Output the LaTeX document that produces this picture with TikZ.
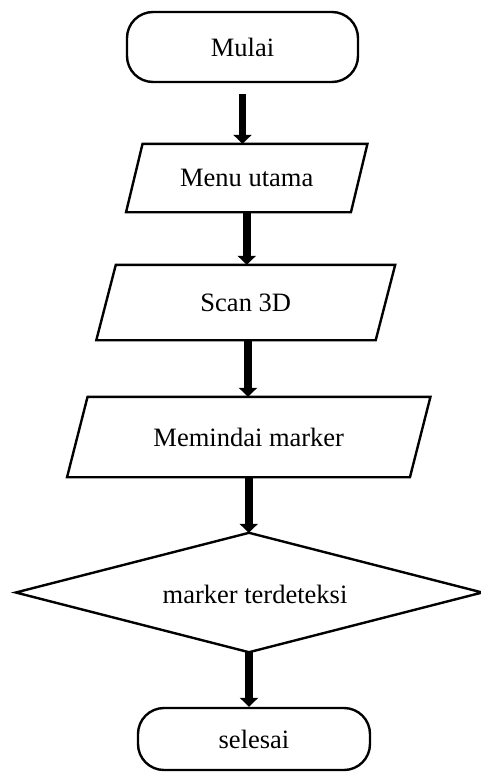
\documentclass[tikz,border=0pt]{standalone}
\usepackage{fontspec}
\setmainfont{Liberation Serif}
\usetikzlibrary{arrows.meta,calc}
\begin{document}
\begin{tikzpicture}[x=1pt,y=-1pt,
  outline/.style={draw=black, line width=2.4pt},
  txt/.style={font=\fontsize{26.5}{30}\selectfont, inner sep=0pt},
  terminal/.style={txt, outline, rounded corners=26pt},
  holder/.style={txt, draw=none},
  flow/.style={line width=7.5pt, -{Triangle[length=9pt,width=18pt]}}
]
\useasboundingbox (0,0) rectangle (480,774);

% start / end terminals
\node[terminal, minimum width=231pt, minimum height=70pt] (start) at (242.5,47) {Mulai};
\node[terminal, minimum width=232pt, minimum height=62pt] (stop) at (254,739) {selesai};

% input/output parallelograms: text holders, outlines drawn from their anchors
\node[holder, minimum width=224.5pt, minimum height=68pt] (menu) at (246.75,178) {Menu utama};
\node[holder, minimum width=279pt, minimum height=75pt] (scan) at (245.75,302.5) {Scan 3D};
\node[holder, minimum width=342.5pt, minimum height=80pt] (pindai) at (248.75,437) {Memindai marker};

\foreach \n/\s in {menu/8.25, scan/9.75, pindai/10.25}{
  \draw[outline, line join=miter]
    ($(\n.north west)+(\s,0)$) -- ($(\n.north east)+(\s,0)$) --
    ($(\n.south east)-(\s,0)$) -- ($(\n.south west)-(\s,0)$) -- cycle;
}

% decision diamond
\node[holder, minimum width=466pt, minimum height=119pt] (cek) at (249,592.5) {};
\node[txt] (cektxt) at (255,594) {marker terdeteksi};
\draw[outline, line join=miter] (cek.north) -- (cek.east) -- (cek.south) -- (cek.west) -- cycle;

% connector start points
\coordinate (startout) at ($(start.south)+(0,11)$);
\coordinate (scanout) at ($(scan.south)+(2.25,0)$);

% connectors
\draw[flow] (startout) -- (startout |- menu.north);
\draw[flow] (menu.south) -- (menu.south |- scan.north);
\draw[flow] (scanout) -- (scanout |- pindai.north);
\draw[flow] (pindai.south) -- (pindai.south |- cek.north);
\draw[flow] (cek.south) -- (cek.south |- stop.north);
\end{tikzpicture}
\end{document}
